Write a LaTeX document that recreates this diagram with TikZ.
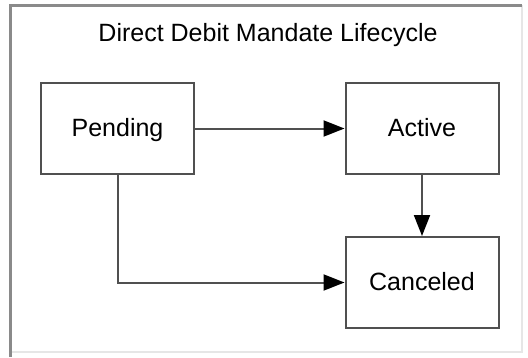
\documentclass[tikz,border=0pt]{standalone}
\usepackage{fontspec}
\setmainfont{Liberation Sans}
\usetikzlibrary{arrows.meta}
\definecolor{boxgray}{HTML}{505050}
\definecolor{framegray}{HTML}{8A8A8A}
\definecolor{shadegray}{HTML}{E6E6E6}
\tikzset{
  state/.style={draw=boxgray, line width=2pt, fill=white, minimum width=153pt,
    minimum height=91pt, inner sep=0pt, text height=18pt, text depth=2pt,
    font=\fontsize{25}{30}\selectfont},
  trans/.style={draw=boxgray, line width=2pt,
    -{Triangle[length=21pt,width=16pt,fill=black,color=black]}}
}
\begin{document}
\begin{tikzpicture}[x=1pt,y=-1pt]
  \useasboundingbox (0,0) rectangle (528,357);
  % frame
  \draw[shadegray, line width=1.5pt] (522,5) -- (522,352) -- (10.5,352);
  \draw[framegray, line width=3pt] (10.5,357) -- (10.5,5) -- (522,5);
  \node (title) at (268,35.5) {\fontsize{25}{30}\selectfont Direct Debit Mandate Lifecycle};
  % states
  \node[state] (pending) at (117.5,128.5) {Pending};
  \node[state] (active) at (422,128.5) {Active};
  \node[state] (canceled) at (422,282.5) {Canceled};
  % transitions
  \draw[trans] (pending) -- (active);
  \draw[trans] (active) -- (canceled);
  \draw[trans] (pending.south) |- (canceled.west);
\end{tikzpicture}
\end{document}
